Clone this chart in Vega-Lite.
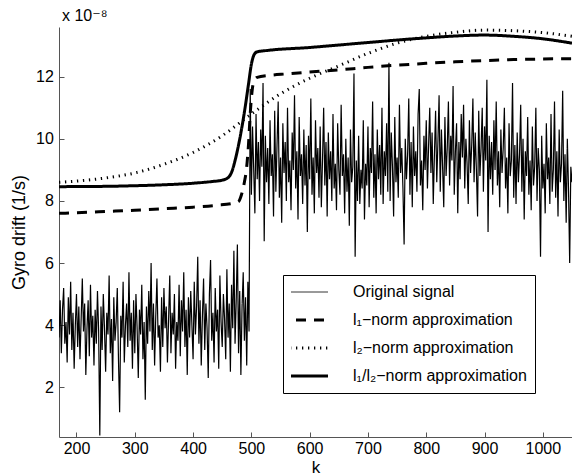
{
"$schema":"https://vega.github.io/schema/vega-lite/v6.json",
"width":513,"height":410,
"autosize":{"type":"none"},
"padding":{"left":59,"top":27,"right":0,"bottom":39},
"background":"white",
"title":{"text":"x 10⁻⁸","anchor":"start","frame":"group","font":"Liberation Sans, DejaVu Sans","fontSize":16,"fontWeight":"normal","color":"black","offset":3,"dx":3},
"layer":[
{"data":{"values":[
{"k":170,"v":3.6,"s":"o"},{"k":172,"v":4.8,"s":"o"},{"k":174,"v":3.1,"s":"o"},{"k":176,"v":4.5,"s":"o"},{"k":178,"v":5.2,"s":"o"},{"k":180,"v":3.4,"s":"o"},{"k":182,"v":4.1,"s":"o"},{"k":184,"v":2.8,"s":"o"},{"k":186,"v":4.9,"s":"o"},{"k":188,"v":3.7,"s":"o"},
{"k":190,"v":5.4,"s":"o"},{"k":192,"v":3.2,"s":"o"},{"k":194,"v":4.4,"s":"o"},{"k":196,"v":2.6,"s":"o"},{"k":198,"v":4.0,"s":"o"},{"k":200,"v":5.0,"s":"o"},{"k":202,"v":3.3,"s":"o"},{"k":204,"v":4.6,"s":"o"},{"k":206,"v":2.9,"s":"o"},{"k":208,"v":4.2,"s":"o"},
{"k":210,"v":5.5,"s":"o"},{"k":212,"v":3.8,"s":"o"},{"k":214,"v":4.7,"s":"o"},{"k":216,"v":2.4,"s":"o"},{"k":218,"v":3.9,"s":"o"},{"k":220,"v":4.8,"s":"o"},{"k":222,"v":3.0,"s":"o"},{"k":224,"v":5.3,"s":"o"},{"k":226,"v":3.6,"s":"o"},{"k":228,"v":4.3,"s":"o"},
{"k":230,"v":2.7,"s":"o"},{"k":232,"v":4.5,"s":"o"},{"k":234,"v":3.4,"s":"o"},{"k":236,"v":5.1,"s":"o"},{"k":238,"v":3.8,"s":"o"},{"k":240,"v":0.45,"s":"o"},{"k":242,"v":4.6,"s":"o"},{"k":244,"v":3.2,"s":"o"},{"k":246,"v":5.0,"s":"o"},{"k":248,"v":3.9,"s":"o"},
{"k":250,"v":2.5,"s":"o"},{"k":252,"v":4.4,"s":"o"},{"k":254,"v":3.7,"s":"o"},{"k":256,"v":5.6,"s":"o"},{"k":258,"v":3.1,"s":"o"},{"k":260,"v":4.2,"s":"o"},{"k":262,"v":2.2,"s":"o"},{"k":264,"v":4.9,"s":"o"},{"k":266,"v":3.5,"s":"o"},{"k":268,"v":4.1,"s":"o"},
{"k":270,"v":5.2,"s":"o"},{"k":272,"v":2.9,"s":"o"},{"k":274,"v":1.2,"s":"o"},{"k":276,"v":4.3,"s":"o"},{"k":278,"v":3.6,"s":"o"},{"k":280,"v":5.4,"s":"o"},{"k":282,"v":2.8,"s":"o"},{"k":284,"v":4.0,"s":"o"},{"k":286,"v":4.7,"s":"o"},{"k":288,"v":3.3,"s":"o"},
{"k":290,"v":5.7,"s":"o"},{"k":292,"v":3.5,"s":"o"},{"k":294,"v":4.4,"s":"o"},{"k":296,"v":2.6,"s":"o"},{"k":298,"v":4.8,"s":"o"},{"k":300,"v":3.1,"s":"o"},{"k":302,"v":5.0,"s":"o"},{"k":304,"v":3.9,"s":"o"},{"k":306,"v":2.3,"s":"o"},{"k":308,"v":4.5,"s":"o"},
{"k":310,"v":3.7,"s":"o"},{"k":312,"v":5.3,"s":"o"},{"k":314,"v":2.9,"s":"o"},{"k":316,"v":4.1,"s":"o"},{"k":318,"v":1.6,"s":"o"},{"k":320,"v":4.6,"s":"o"},{"k":322,"v":3.4,"s":"o"},{"k":324,"v":5.1,"s":"o"},{"k":326,"v":3.8,"s":"o"},{"k":328,"v":6.0,"s":"o"},
{"k":330,"v":3.2,"s":"o"},{"k":332,"v":4.7,"s":"o"},{"k":334,"v":2.7,"s":"o"},{"k":336,"v":4.3,"s":"o"},{"k":338,"v":5.5,"s":"o"},{"k":340,"v":3.6,"s":"o"},{"k":342,"v":4.0,"s":"o"},{"k":344,"v":2.5,"s":"o"},{"k":346,"v":4.9,"s":"o"},{"k":348,"v":3.3,"s":"o"},
{"k":350,"v":5.2,"s":"o"},{"k":352,"v":3.9,"s":"o"},{"k":354,"v":4.6,"s":"o"},{"k":356,"v":2.8,"s":"o"},{"k":358,"v":4.2,"s":"o"},{"k":360,"v":5.6,"s":"o"},{"k":362,"v":3.1,"s":"o"},{"k":364,"v":4.4,"s":"o"},{"k":366,"v":3.7,"s":"o"},{"k":368,"v":5.0,"s":"o"},
{"k":370,"v":2.6,"s":"o"},{"k":372,"v":4.1,"s":"o"},{"k":374,"v":3.5,"s":"o"},{"k":376,"v":5.3,"s":"o"},{"k":378,"v":3.0,"s":"o"},{"k":380,"v":4.8,"s":"o"},{"k":382,"v":3.8,"s":"o"},{"k":384,"v":5.7,"s":"o"},{"k":386,"v":3.3,"s":"o"},{"k":388,"v":4.5,"s":"o"},
{"k":390,"v":2.4,"s":"o"},{"k":392,"v":4.9,"s":"o"},{"k":394,"v":3.6,"s":"o"},{"k":396,"v":5.1,"s":"o"},{"k":398,"v":4.0,"s":"o"},{"k":400,"v":2.9,"s":"o"},{"k":402,"v":5.4,"s":"o"},{"k":404,"v":3.7,"s":"o"},{"k":406,"v":4.6,"s":"o"},{"k":408,"v":6.2,"s":"o"},
{"k":410,"v":3.4,"s":"o"},{"k":412,"v":4.8,"s":"o"},{"k":414,"v":2.7,"s":"o"},{"k":416,"v":4.3,"s":"o"},{"k":418,"v":5.5,"s":"o"},{"k":420,"v":3.2,"s":"o"},{"k":422,"v":4.7,"s":"o"},{"k":424,"v":3.9,"s":"o"},{"k":426,"v":2.3,"s":"o"},{"k":428,"v":5.0,"s":"o"},
{"k":430,"v":6.1,"s":"o"},{"k":432,"v":3.5,"s":"o"},{"k":434,"v":4.4,"s":"o"},{"k":436,"v":2.8,"s":"o"},{"k":438,"v":5.2,"s":"o"},{"k":440,"v":3.8,"s":"o"},{"k":442,"v":4.5,"s":"o"},{"k":444,"v":2.6,"s":"o"},{"k":446,"v":5.6,"s":"o"},{"k":448,"v":4.1,"s":"o"},
{"k":450,"v":3.3,"s":"o"},{"k":452,"v":5.0,"s":"o"},{"k":454,"v":4.2,"s":"o"},{"k":456,"v":2.9,"s":"o"},{"k":458,"v":5.8,"s":"o"},{"k":460,"v":3.6,"s":"o"},{"k":462,"v":4.7,"s":"o"},{"k":464,"v":2.5,"s":"o"},{"k":466,"v":5.3,"s":"o"},{"k":468,"v":3.9,"s":"o"},
{"k":470,"v":6.4,"s":"o"},{"k":472,"v":3.4,"s":"o"},{"k":474,"v":4.8,"s":"o"},{"k":476,"v":6.6,"s":"o"},{"k":478,"v":3.1,"s":"o"},{"k":480,"v":5.1,"s":"o"},{"k":482,"v":2.4,"s":"o"},{"k":484,"v":4.6,"s":"o"},{"k":486,"v":5.7,"s":"o"},{"k":488,"v":3.5,"s":"o"},
{"k":490,"v":4.9,"s":"o"},{"k":492,"v":2.7,"s":"o"},{"k":494,"v":5.4,"s":"o"},{"k":496,"v":3.8,"s":"o"},
{"k":498,"v":11.6,"s":"o"},{"k":500,"v":8.2,"s":"o"},{"k":502,"v":10.4,"s":"o"},{"k":504,"v":9.0,"s":"o"},{"k":506,"v":7.6,"s":"o"},{"k":508,"v":10.8,"s":"o"},{"k":510,"v":8.7,"s":"o"},{"k":512,"v":9.9,"s":"o"},{"k":514,"v":8.0,"s":"o"},{"k":516,"v":10.3,"s":"o"},
{"k":518,"v":9.1,"s":"o"},{"k":520,"v":11.8,"s":"o"},{"k":522,"v":6.7,"s":"o"},{"k":524,"v":10.1,"s":"o"},{"k":526,"v":8.6,"s":"o"},{"k":528,"v":9.7,"s":"o"},{"k":530,"v":7.9,"s":"o"},{"k":532,"v":10.6,"s":"o"},{"k":534,"v":8.8,"s":"o"},{"k":536,"v":9.5,"s":"o"},
{"k":538,"v":7.5,"s":"o"},{"k":540,"v":10.9,"s":"o"},{"k":542,"v":8.3,"s":"o"},{"k":544,"v":9.8,"s":"o"},{"k":546,"v":11.2,"s":"o"},{"k":548,"v":8.1,"s":"o"},{"k":550,"v":9.4,"s":"o"},{"k":552,"v":7.3,"s":"o"},{"k":554,"v":10.5,"s":"o"},{"k":556,"v":8.9,"s":"o"},
{"k":558,"v":9.9,"s":"o"},{"k":560,"v":8.0,"s":"o"},{"k":562,"v":11.0,"s":"o"},{"k":564,"v":8.6,"s":"o"},{"k":566,"v":9.3,"s":"o"},{"k":568,"v":7.7,"s":"o"},{"k":570,"v":10.2,"s":"o"},{"k":572,"v":9.0,"s":"o"},{"k":574,"v":11.4,"s":"o"},{"k":576,"v":8.4,"s":"o"},
{"k":578,"v":9.6,"s":"o"},{"k":580,"v":7.4,"s":"o"},{"k":582,"v":10.7,"s":"o"},{"k":584,"v":8.8,"s":"o"},{"k":586,"v":9.5,"s":"o"},{"k":588,"v":7.9,"s":"o"},{"k":590,"v":10.3,"s":"o"},{"k":592,"v":8.5,"s":"o"},{"k":594,"v":9.8,"s":"o"},{"k":596,"v":7.0,"s":"o"},
{"k":598,"v":10.1,"s":"o"},{"k":600,"v":8.7,"s":"o"},{"k":602,"v":11.3,"s":"o"},{"k":604,"v":8.2,"s":"o"},{"k":606,"v":9.4,"s":"o"},{"k":608,"v":7.6,"s":"o"},{"k":610,"v":10.6,"s":"o"},{"k":612,"v":8.9,"s":"o"},{"k":614,"v":9.7,"s":"o"},{"k":616,"v":8.1,"s":"o"},
{"k":618,"v":10.4,"s":"o"},{"k":620,"v":7.8,"s":"o"},{"k":622,"v":9.3,"s":"o"},{"k":624,"v":11.0,"s":"o"},{"k":626,"v":8.5,"s":"o"},{"k":628,"v":9.9,"s":"o"},{"k":630,"v":7.5,"s":"o"},{"k":632,"v":10.2,"s":"o"},{"k":634,"v":8.7,"s":"o"},{"k":636,"v":9.6,"s":"o"},
{"k":638,"v":8.0,"s":"o"},{"k":640,"v":10.8,"s":"o"},{"k":642,"v":8.4,"s":"o"},{"k":644,"v":9.2,"s":"o"},{"k":646,"v":7.7,"s":"o"},{"k":648,"v":10.5,"s":"o"},{"k":650,"v":9.0,"s":"o"},{"k":652,"v":8.2,"s":"o"},{"k":654,"v":11.1,"s":"o"},{"k":656,"v":8.8,"s":"o"},
{"k":658,"v":9.5,"s":"o"},{"k":660,"v":7.6,"s":"o"},{"k":662,"v":10.0,"s":"o"},{"k":664,"v":8.3,"s":"o"},{"k":666,"v":9.4,"s":"o"},{"k":668,"v":7.2,"s":"o"},{"k":670,"v":10.3,"s":"o"},{"k":672,"v":8.6,"s":"o"},{"k":674,"v":9.1,"s":"o"},{"k":676,"v":12.1,"s":"o"},
{"k":678,"v":6.2,"s":"o"},{"k":680,"v":9.3,"s":"o"},{"k":682,"v":8.0,"s":"o"},{"k":684,"v":10.1,"s":"o"},{"k":686,"v":7.9,"s":"o"},{"k":688,"v":9.0,"s":"o"},{"k":690,"v":8.4,"s":"o"},{"k":692,"v":10.6,"s":"o"},{"k":694,"v":7.4,"s":"o"},{"k":696,"v":9.2,"s":"o"},
{"k":698,"v":8.5,"s":"o"},{"k":700,"v":10.4,"s":"o"},{"k":702,"v":7.8,"s":"o"},{"k":704,"v":9.7,"s":"o"},{"k":706,"v":8.9,"s":"o"},{"k":708,"v":11.2,"s":"o"},{"k":710,"v":8.1,"s":"o"},{"k":712,"v":9.5,"s":"o"},{"k":714,"v":7.6,"s":"o"},{"k":716,"v":10.3,"s":"o"},
{"k":718,"v":8.7,"s":"o"},{"k":720,"v":9.8,"s":"o"},{"k":722,"v":8.2,"s":"o"},{"k":724,"v":11.0,"s":"o"},{"k":726,"v":7.9,"s":"o"},{"k":728,"v":9.6,"s":"o"},{"k":730,"v":8.8,"s":"o"},{"k":732,"v":10.5,"s":"o"},{"k":734,"v":8.3,"s":"o"},{"k":736,"v":12.45,"s":"o"},
{"k":738,"v":8.0,"s":"o"},{"k":740,"v":10.2,"s":"o"},{"k":742,"v":9.1,"s":"o"},{"k":744,"v":7.5,"s":"o"},{"k":746,"v":10.7,"s":"o"},{"k":748,"v":8.6,"s":"o"},{"k":750,"v":9.4,"s":"o"},{"k":752,"v":8.1,"s":"o"},{"k":754,"v":11.1,"s":"o"},{"k":756,"v":8.9,"s":"o"},
{"k":758,"v":9.7,"s":"o"},{"k":760,"v":8.4,"s":"o"},{"k":762,"v":6.6,"s":"o"},{"k":764,"v":10.0,"s":"o"},{"k":766,"v":8.7,"s":"o"},{"k":768,"v":9.5,"s":"o"},{"k":770,"v":11.3,"s":"o"},{"k":772,"v":8.2,"s":"o"},{"k":774,"v":9.9,"s":"o"},{"k":776,"v":7.8,"s":"o"},
{"k":778,"v":10.4,"s":"o"},{"k":780,"v":8.8,"s":"o"},{"k":782,"v":9.6,"s":"o"},{"k":784,"v":8.3,"s":"o"},{"k":786,"v":10.8,"s":"o"},{"k":788,"v":11.6,"s":"o"},{"k":790,"v":8.5,"s":"o"},{"k":792,"v":9.3,"s":"o"},{"k":794,"v":7.7,"s":"o"},{"k":796,"v":10.1,"s":"o"},
{"k":798,"v":9.0,"s":"o"},{"k":800,"v":10.6,"s":"o"},{"k":802,"v":8.4,"s":"o"},{"k":804,"v":9.8,"s":"o"},{"k":806,"v":11.0,"s":"o"},{"k":808,"v":8.9,"s":"o"},{"k":810,"v":10.2,"s":"o"},{"k":812,"v":7.9,"s":"o"},{"k":814,"v":9.5,"s":"o"},{"k":816,"v":10.9,"s":"o"},
{"k":818,"v":8.6,"s":"o"},{"k":820,"v":9.9,"s":"o"},{"k":822,"v":11.4,"s":"o"},{"k":824,"v":8.3,"s":"o"},{"k":826,"v":10.3,"s":"o"},{"k":828,"v":9.1,"s":"o"},{"k":830,"v":7.8,"s":"o"},{"k":832,"v":10.7,"s":"o"},{"k":834,"v":8.8,"s":"o"},{"k":836,"v":9.7,"s":"o"},
{"k":838,"v":11.2,"s":"o"},{"k":840,"v":8.5,"s":"o"},{"k":842,"v":10.1,"s":"o"},{"k":844,"v":9.3,"s":"o"},{"k":846,"v":11.7,"s":"o"},{"k":848,"v":8.2,"s":"o"},{"k":850,"v":9.6,"s":"o"},{"k":852,"v":10.5,"s":"o"},{"k":854,"v":7.6,"s":"o"},{"k":856,"v":9.9,"s":"o"},
{"k":858,"v":8.7,"s":"o"},{"k":860,"v":10.8,"s":"o"},{"k":862,"v":9.4,"s":"o"},{"k":864,"v":11.1,"s":"o"},{"k":866,"v":8.4,"s":"o"},{"k":868,"v":10.0,"s":"o"},{"k":870,"v":9.2,"s":"o"},{"k":872,"v":7.9,"s":"o"},{"k":874,"v":10.6,"s":"o"},{"k":876,"v":8.9,"s":"o"},
{"k":878,"v":9.8,"s":"o"},{"k":880,"v":11.3,"s":"o"},{"k":882,"v":8.6,"s":"o"},{"k":884,"v":10.2,"s":"o"},{"k":886,"v":9.0,"s":"o"},{"k":888,"v":7.5,"s":"o"},{"k":890,"v":10.9,"s":"o"},{"k":892,"v":8.8,"s":"o"},{"k":894,"v":9.7,"s":"o"},{"k":896,"v":11.0,"s":"o"},
{"k":898,"v":8.3,"s":"o"},{"k":900,"v":10.4,"s":"o"},{"k":902,"v":9.3,"s":"o"},{"k":904,"v":11.9,"s":"o"},{"k":906,"v":7.0,"s":"o"},{"k":908,"v":10.1,"s":"o"},{"k":910,"v":8.7,"s":"o"},{"k":912,"v":9.9,"s":"o"},{"k":914,"v":8.2,"s":"o"},{"k":916,"v":10.6,"s":"o"},
{"k":918,"v":9.0,"s":"o"},{"k":920,"v":11.2,"s":"o"},{"k":922,"v":8.5,"s":"o"},{"k":924,"v":9.6,"s":"o"},{"k":926,"v":7.8,"s":"o"},{"k":928,"v":10.3,"s":"o"},{"k":930,"v":8.9,"s":"o"},{"k":932,"v":9.7,"s":"o"},{"k":934,"v":11.0,"s":"o"},{"k":936,"v":8.4,"s":"o"},
{"k":938,"v":9.4,"s":"o"},{"k":940,"v":7.6,"s":"o"},{"k":942,"v":10.5,"s":"o"},{"k":944,"v":8.8,"s":"o"},{"k":946,"v":9.3,"s":"o"},{"k":948,"v":11.8,"s":"o"},{"k":950,"v":8.1,"s":"o"},{"k":952,"v":9.8,"s":"o"},{"k":954,"v":7.9,"s":"o"},{"k":956,"v":10.2,"s":"o"},
{"k":958,"v":8.6,"s":"o"},{"k":960,"v":9.5,"s":"o"},{"k":962,"v":11.1,"s":"o"},{"k":964,"v":8.3,"s":"o"},{"k":966,"v":10.0,"s":"o"},{"k":968,"v":7.4,"s":"o"},{"k":970,"v":9.6,"s":"o"},{"k":972,"v":8.8,"s":"o"},{"k":974,"v":10.7,"s":"o"},{"k":976,"v":8.2,"s":"o"},
{"k":978,"v":9.3,"s":"o"},{"k":980,"v":7.7,"s":"o"},{"k":982,"v":10.4,"s":"o"},{"k":984,"v":8.5,"s":"o"},{"k":986,"v":9.1,"s":"o"},{"k":988,"v":11.0,"s":"o"},{"k":990,"v":8.0,"s":"o"},{"k":992,"v":9.7,"s":"o"},{"k":994,"v":9.0,"s":"o"},{"k":996,"v":6.2,"s":"o"},
{"k":998,"v":10.1,"s":"o"},{"k":1000,"v":8.4,"s":"o"},{"k":1002,"v":9.2,"s":"o"},{"k":1004,"v":7.6,"s":"o"},{"k":1006,"v":10.5,"s":"o"},{"k":1008,"v":8.7,"s":"o"},{"k":1010,"v":9.4,"s":"o"},{"k":1012,"v":7.9,"s":"o"},{"k":1014,"v":10.8,"s":"o"},{"k":1016,"v":8.3,"s":"o"},
{"k":1018,"v":9.0,"s":"o"},{"k":1020,"v":11.2,"s":"o"},{"k":1022,"v":8.1,"s":"o"},{"k":1024,"v":9.6,"s":"o"},{"k":1026,"v":7.5,"s":"o"},{"k":1028,"v":10.3,"s":"o"},{"k":1030,"v":8.6,"s":"o"},{"k":1032,"v":9.2,"s":"o"},{"k":1034,"v":11.55,"s":"o"},{"k":1036,"v":8.0,"s":"o"},
{"k":1038,"v":9.5,"s":"o"},{"k":1040,"v":7.3,"s":"o"},{"k":1042,"v":10.0,"s":"o"},{"k":1044,"v":8.4,"s":"o"},{"k":1046,"v":6.0,"s":"o"},{"k":1048,"v":9.1,"s":"o"},{"k":1050,"v":8.6,"s":"o"}
]},
"mark":{"type":"line","strokeWidth":1.2,"color":"#000","clip":true,"interpolate":"linear"},
"encoding":{
"x":{"field":"k","type":"quantitative","scale":{"domain":[170,1050],"nice":false,"zero":false},"axis":{"values":[200,300,400,500,600,700,800,900,1000],"format":"d","title":"k"}},
"y":{"field":"v","type":"quantitative","scale":{"domain":[0.4,13.6],"nice":false,"zero":false},"axis":{"values":[2,4,6,8,10,12],"format":"d","title":"Gyro drift (1/s)"}},
"strokeDash":{"field":"s","type":"nominal","scale":{"domain":["o","a","b","c"],"range":[[1,0],[10,8],[1.3,4.7],[1,0]]},
"legend":{"title":null,"orient":"none","legendX":224,"legendY":248,"strokeColor":"black","fillColor":"white","padding":8,"symbolType":"stroke","symbolSize":2500,"symbolOffset":4,"symbolStrokeColor":"black","clipHeight":18,"rowPadding":10,"labelOffset":42,"labelFont":"Liberation Sans, DejaVu Sans","labelFontSize":16,"labelColor":"black","labelLimit":300,
"labelExpr":"datum.label=='o'?'Original signal':datum.label=='a'?'l₁−norm approximation':datum.label=='b'?'l₂−norm approximation':'l₁/l₂−norm approximation'",
"encode":{"symbols":{"update":{"strokeWidth":{"signal":"datum.value=='o'?0.8:3"}}}}}}
}},
{"data":{"values":[
{"k":170,"v":7.60,"s":"a"},{"k":200,"v":7.62,"s":"a"},{"k":250,"v":7.66,"s":"a"},{"k":300,"v":7.70,"s":"a"},{"k":350,"v":7.75,"s":"a"},{"k":400,"v":7.80,"s":"a"},{"k":440,"v":7.86,"s":"a"},{"k":470,"v":7.93,"s":"a"},{"k":478,"v":7.98,"s":"a"},{"k":483,"v":8.2,"s":"a"},{"k":488,"v":8.6,"s":"a"},{"k":492,"v":9.1,"s":"a"},{"k":495,"v":9.8,"s":"a"},{"k":498,"v":10.8,"s":"a"},{"k":501,"v":11.5,"s":"a"},{"k":504,"v":11.85,"s":"a"},{"k":510,"v":11.98,"s":"a"},{"k":530,"v":12.04,"s":"a"},{"k":560,"v":12.09,"s":"a"},{"k":600,"v":12.15,"s":"a"},{"k":650,"v":12.22,"s":"a"},{"k":700,"v":12.3,"s":"a"},{"k":750,"v":12.37,"s":"a"},{"k":800,"v":12.43,"s":"a"},{"k":850,"v":12.48,"s":"a"},{"k":900,"v":12.52,"s":"a"},{"k":950,"v":12.55,"s":"a"},{"k":1000,"v":12.57,"s":"a"},{"k":1050,"v":12.58,"s":"a"},
{"k":170,"v":8.6,"s":"b"},{"k":200,"v":8.64,"s":"b"},{"k":250,"v":8.74,"s":"b"},{"k":300,"v":8.9,"s":"b"},{"k":350,"v":9.18,"s":"b"},{"k":400,"v":9.56,"s":"b"},{"k":450,"v":10.1,"s":"b"},{"k":500,"v":10.8,"s":"b"},{"k":550,"v":11.45,"s":"b"},{"k":600,"v":11.95,"s":"b"},{"k":650,"v":12.35,"s":"b"},{"k":700,"v":12.75,"s":"b"},{"k":750,"v":13.08,"s":"b"},{"k":800,"v":13.3,"s":"b"},{"k":850,"v":13.43,"s":"b"},{"k":900,"v":13.5,"s":"b"},{"k":950,"v":13.48,"s":"b"},{"k":1000,"v":13.42,"s":"b"},{"k":1050,"v":13.3,"s":"b"},
{"k":170,"v":8.46,"s":"c"},{"k":250,"v":8.47,"s":"c"},{"k":300,"v":8.49,"s":"c"},{"k":350,"v":8.52,"s":"c"},{"k":400,"v":8.57,"s":"c"},{"k":430,"v":8.62,"s":"c"},{"k":450,"v":8.67,"s":"c"},{"k":460,"v":8.75,"s":"c"},{"k":466,"v":8.92,"s":"c"},{"k":472,"v":9.3,"s":"c"},{"k":478,"v":9.8,"s":"c"},{"k":484,"v":10.4,"s":"c"},{"k":490,"v":11.1,"s":"c"},{"k":495,"v":11.75,"s":"c"},{"k":500,"v":12.4,"s":"c"},{"k":505,"v":12.72,"s":"c"},{"k":510,"v":12.8,"s":"c"},{"k":530,"v":12.85,"s":"c"},{"k":600,"v":12.94,"s":"c"},{"k":650,"v":13.02,"s":"c"},{"k":700,"v":13.1,"s":"c"},{"k":750,"v":13.18,"s":"c"},{"k":800,"v":13.25,"s":"c"},{"k":850,"v":13.31,"s":"c"},{"k":900,"v":13.34,"s":"c"},{"k":950,"v":13.3,"s":"c"},{"k":1000,"v":13.22,"s":"c"},{"k":1050,"v":13.08,"s":"c"}
]},
"mark":{"type":"line","strokeWidth":3,"color":"black","clip":true,"interpolate":"monotone"},
"encoding":{
"x":{"field":"k","type":"quantitative"},
"y":{"field":"v","type":"quantitative"},
"strokeDash":{"field":"s","type":"nominal"}
}}
],
"config":{
"view":{"stroke":null},
"axis":{"grid":false,"domainColor":"#555","tickColor":"#555","domainWidth":1,"tickWidth":1,"tickSize":-5,"labelFont":"Liberation Sans","labelFontSize":16,"labelColor":"black","titleFont":"Liberation Sans, DejaVu Sans","titleFontWeight":"normal","titleColor":"black"},
"axisX":{"labelPadding":8.5,"titleFontSize":17,"titlePadding":3},
"axisY":{"labelPadding":10.7,"titleFontSize":18,"titlePadding":7}
}
}
